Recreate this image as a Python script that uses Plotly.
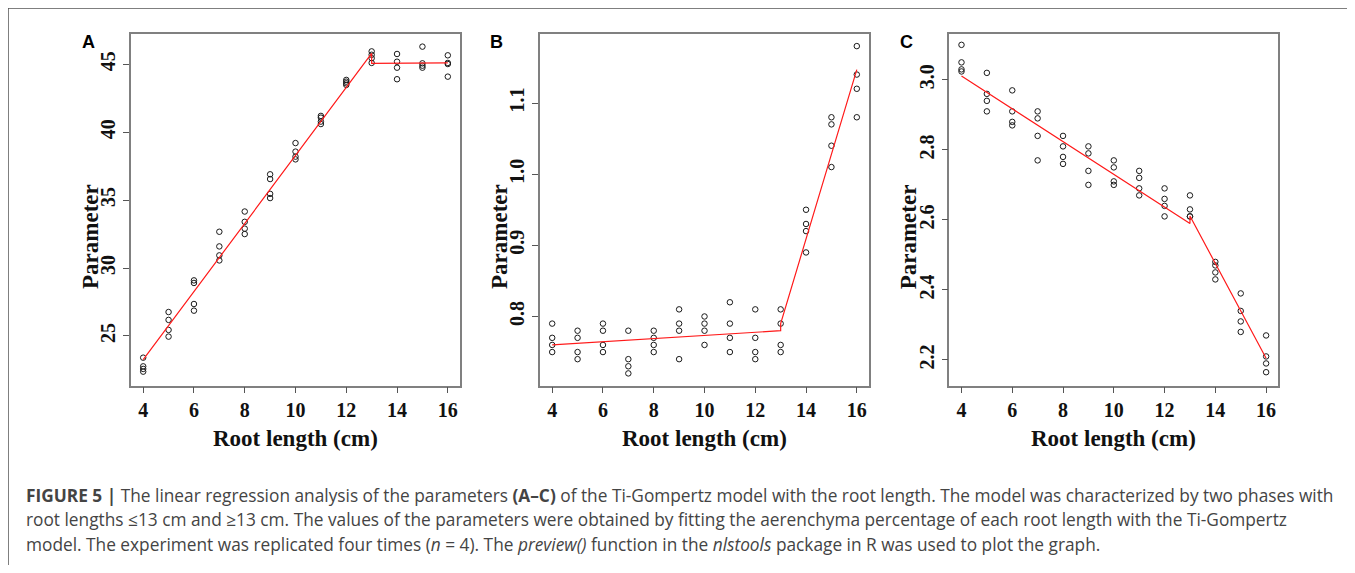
import plotly.graph_objects as go

# The page body keeps its default 8px margin, so the figure is drawn at (8, 8)
OFF = 8
W, H = 1355 - 2 * OFF, 573 - 2 * OFF

# ---------------- data ----------------
root_len = [4, 5, 6, 7, 8, 9, 10, 11, 12, 13, 14, 15, 16]

param_a = [
    [23.4, 22.76, 22.57, 22.37],
    [26.76, 26.18, 25.44, 24.95],
    [29.09, 28.9, 27.35, 26.86],
    [32.67, 31.59, 30.93, 30.56],
    [34.16, 33.4, 32.9, 32.5],
    [36.9, 36.55, 35.46, 35.15],
    [39.2, 38.57, 38.2, 38.0],
    [41.2, 41.07, 40.78, 40.6],
    [43.85, 43.72, 43.6, 43.48],
    [45.95, 45.7, 45.45, 45.1],
    [45.76, 45.19, 44.75, 43.9],
    [46.3, 45.07, 44.9, 44.75],
    [45.66, 45.02, 45.1, 44.09],
]
param_b = [
    [0.79, 0.77, 0.76, 0.75],
    [0.78, 0.77, 0.75, 0.74],
    [0.79, 0.78, 0.76, 0.75],
    [0.78, 0.74, 0.73, 0.72],
    [0.78, 0.77, 0.76, 0.75],
    [0.81, 0.79, 0.78, 0.74],
    [0.80, 0.79, 0.78, 0.76],
    [0.82, 0.79, 0.77, 0.75],
    [0.81, 0.77, 0.75, 0.74],
    [0.81, 0.79, 0.76, 0.75],
    [0.95, 0.93, 0.92, 0.89],
    [1.08, 1.07, 1.04, 1.01],
    [1.18, 1.14, 1.12, 1.08],
]
param_c = [
    [3.10, 3.05, 3.03, 3.024],
    [3.02, 2.96, 2.94, 2.91],
    [2.97, 2.91, 2.88, 2.87],
    [2.91, 2.89, 2.84, 2.77],
    [2.84, 2.81, 2.78, 2.76],
    [2.81, 2.79, 2.74, 2.70],
    [2.77, 2.75, 2.71, 2.70],
    [2.74, 2.72, 2.69, 2.67],
    [2.69, 2.66, 2.64, 2.61],
    [2.67, 2.63, 2.61, 2.61],
    [2.48, 2.47, 2.45, 2.43],
    [2.39, 2.34, 2.31, 2.28],
    [2.27, 2.21, 2.19, 2.165],
]

fit_x = [4, 13, 13, 16]
fit_a = [23.26, 45.8, 45.07, 45.1]
fit_b = [0.76, 0.78, 0.79, 1.147]
fit_c = [3.011, 2.59, 2.611, 2.205]

x_ticks = [4, 6, 8, 10, 12, 14, 16]
y_ticks_a = [25, 30, 35, 40, 45]
y_ticks_b = [0.8, 0.9, 1.0, 1.1]
y_ticks_c = [2.2, 2.4, 2.6, 2.8, 3.0]
y_ticktext_a = ["25", "30", "35", "40", "45"]
y_ticktext_b = ["0.8", "0.9", "1.0", "1.1"]
y_ticktext_c = ["2.2", "2.4", "2.6", "2.8", "3.0"]

y_ranges = [[21.35, 47.23], [0.703, 1.197], [2.127, 3.131]]
panel_letters = ["A", "B", "C"]

caption_lines = [
    "<b>FIGURE 5 |</b> The linear regression analysis of the parameters <b>(A–C)</b> of the Ti-Gompertz model with the root length. The model was characterized by two phases with",
    "root lengths ≤13 cm and ≥13 cm. The values of the parameters were obtained by fitting the aerenchyma percentage of each root length with the Ti-Gompertz",
    "model. The experiment was replicated four times (<i>n</i> = 4). The <i>preview()</i> function in the <i>nlstools</i> package in R was used to plot the graph.",
]


def px(x):
    return (x - OFF) / W


def py(y):
    return 1 - (y - OFF) / H


# ---------------- layout geometry (page pixels) ----------------
box_left = [131, 540, 949.3]
box_w = 329
box_top, box_bot = 34, 385.5

serif = "Liberation Serif"
fig = go.Figure()

panels = [
    (param_a, fit_a, y_ticks_a, y_ticktext_a),
    (param_b, fit_b, y_ticks_b, y_ticktext_b),
    (param_c, fit_c, y_ticks_c, y_ticktext_c),
]

tick_font = dict(family=serif, size=20, color="#111111", weight="bold")

layout_axes = {}
for i, (vals, fit, yt, ytt) in enumerate(panels):
    n = "" if i == 0 else str(i + 1)
    xs, ys = [], []
    for xv, reps in zip(root_len, vals):
        for v in reps:
            xs.append(xv)
            ys.append(v)
    fig.add_trace(go.Scatter(
        x=xs, y=ys, mode="markers", xaxis="x" + n, yaxis="y" + n,
        marker=dict(symbol="circle-open", size=5.5, color="#1a1a1a", line=dict(width=1, color="#1a1a1a")),
        showlegend=False, hoverinfo="skip"))
    fig.add_trace(go.Scatter(
        x=fit_x, y=fit, mode="lines", xaxis="x" + n, yaxis="y" + n,
        line=dict(color="#ff1a1a", width=1.2), showlegend=False, hoverinfo="skip"))

    layout_axes["xaxis" + n] = dict(
        domain=[px(box_left[i]), px(box_left[i] + box_w)], range=[3.52, 16.48], anchor="y" + n,
        tickvals=x_ticks, ticktext=[str(t) for t in x_ticks],
        ticks="outside", ticklen=6, tickwidth=1, tickcolor="#555555",
        showline=True, mirror=True, linecolor="#808080", linewidth=1.5,
        showgrid=False, zeroline=False, tickfont=tick_font,
    )
    layout_axes["yaxis" + n] = dict(
        domain=[py(box_bot), py(box_top)], range=y_ranges[i], anchor="x" + n,
        tickvals=yt, ticktext=ytt, tickangle=-90,
        ticks="outside", ticklen=6, tickwidth=1, tickcolor="#555555",
        showline=True, mirror=True, linecolor="#808080", linewidth=1.5,
        showgrid=False, zeroline=False, tickfont=tick_font,
    )

annotations = []
for i in range(3):
    cx = box_left[i] + box_w / 2
    annotations.append(dict(
        x=px(cx), y=py(438), xref="paper", yref="paper",
        text="<b>Root length (cm)</b>", showarrow=False,
        font=dict(family=serif, size=23, color="#111111"),
        xanchor="center", yanchor="middle"))
    annotations.append(dict(
        x=px(box_left[i] - 41), y=py(237), xref="paper", yref="paper",
        text="<b>Parameter</b>", showarrow=False, textangle=-90,
        font=dict(family=serif, size=23, color="#111111"),
        xanchor="center", yanchor="middle"))
    annotations.append(dict(
        x=px(box_left[i] - 43), y=py(42), xref="paper", yref="paper",
        text="<b>" + panel_letters[i] + "</b>", showarrow=False,
        font=dict(family="Liberation Sans", size=18, color="#000000"),
        xanchor="center", yanchor="middle"))

for k, line in enumerate(caption_lines):
    annotations.append(dict(
        x=px(24), y=py(495 + 24.5 * k), xref="paper", yref="paper",
        text=line, showarrow=False, align="left",
        font=dict(family="Open Sans", size=17.3, color="#444444"),
        xanchor="left", yanchor="middle"))

shapes = [
    dict(type="line", xref="paper", yref="paper", x0=px(8), x1=1.0, y0=py(8), y1=py(8),
         line=dict(color="#555555", width=1.5)),
    dict(type="line", xref="paper", yref="paper", x0=px(8), x1=px(8), y0=py(8), y1=0,
         line=dict(color="#555555", width=1.5)),
]

fig.update_layout(
    width=W, height=H, margin=dict(l=0, r=0, t=0, b=0),
    paper_bgcolor="white", plot_bgcolor="white",
    annotations=annotations, shapes=shapes, **layout_axes)

fig.write_html("out.html")
